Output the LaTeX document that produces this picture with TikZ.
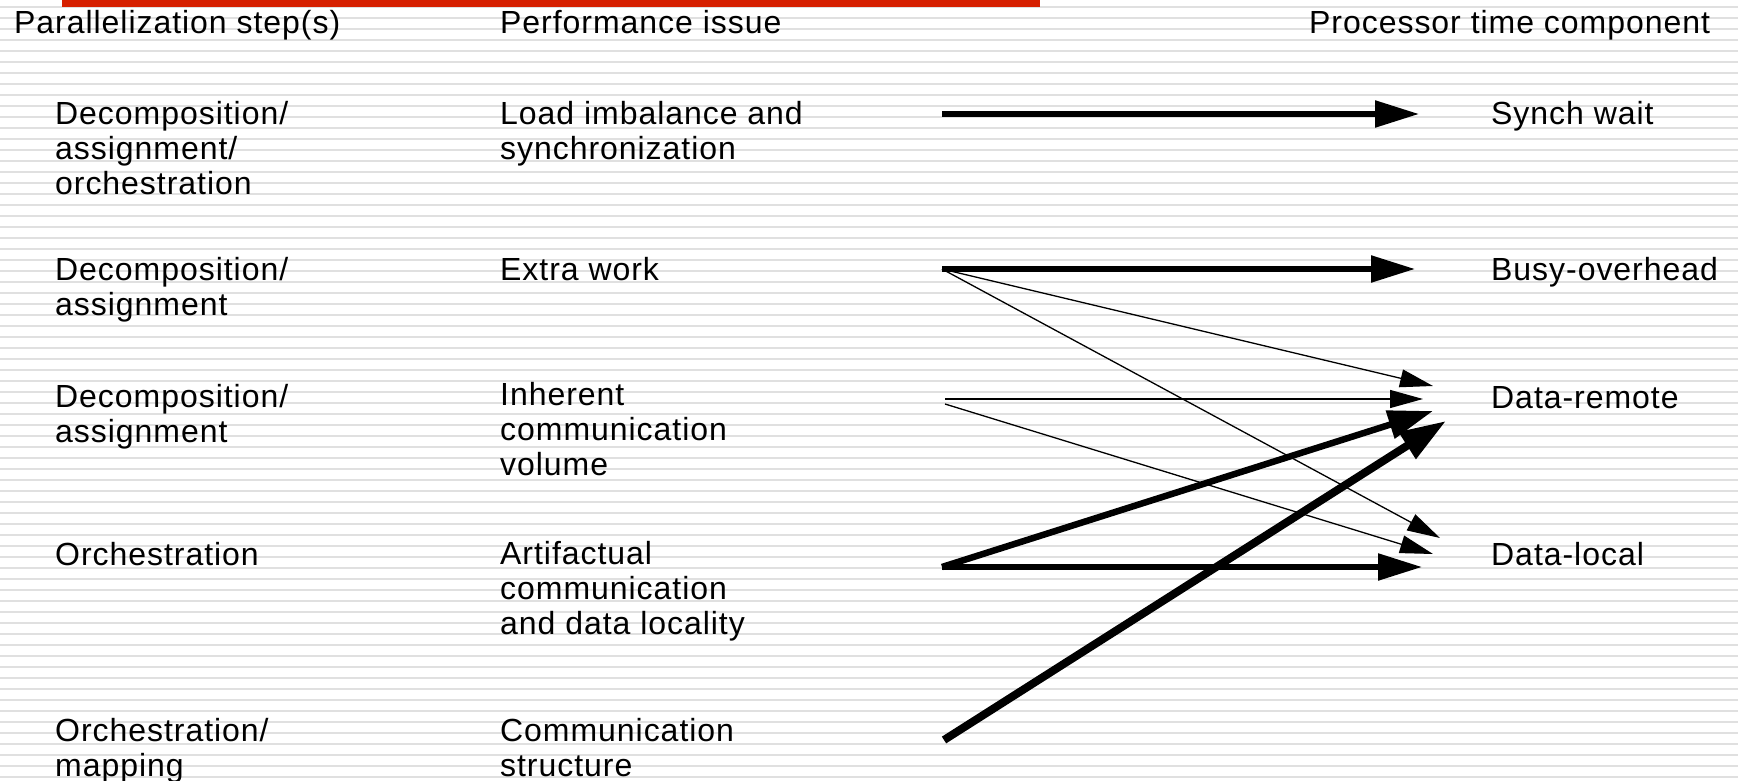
\documentclass[tikz,border=0pt]{standalone}
\usepackage{fontspec}
\setmainfont{Liberation Sans}[LetterSpace=3]
\usetikzlibrary{arrows.meta}
\definecolor{stripegray}{RGB}{224,224,224}
\definecolor{barred}{RGB}{214,32,0}
% invisible strut fixing the height of every first text line
\newcommand\firstline{\rule{0pt}{28pt}}

\begin{document}
\begin{tikzpicture}[x=1pt,y=-1pt,
  txt/.style={anchor=north west, inner sep=0pt, align=left,
              font=\fontsize{32}{35}\selectfont},
  bigarrow/.style={line width=5.5pt, -{Triangle[length=44pt,width=26pt]}},
  thinarrow/.style={line width=1.3pt, -{Triangle[length=33pt,width=18pt]}}]

\useasboundingbox (0,0) rectangle (1738,781);

% ruled background
\fill[white] (0,0) rectangle (1738,781);
\foreach \k in {0,...,70}
  \fill[stripegray] (0,{6+11*\k}) rectangle (1738,{8+11*\k});
\fill[barred] (62,0) rectangle (1040,7);

% column headings
\node[txt] (h1) at (14,5)   {\firstline Parallelization step(s)};
\node[txt] (h2) at (500,5)  {\firstline Performance issue};
\node[txt] (h3) at (1309,5) {\firstline Processor time component};

% parallelization steps
\node[txt] (p1) at (55,96)  {\firstline Decomposition/\\assignment/\\orchestration};
\node[txt] (p2) at (55,252) {\firstline Decomposition/\\assignment};
\node[txt] (p3) at (55,379) {\firstline Decomposition/\\assignment};
\node[txt] (p4) at (55,537) {\firstline Orchestration};
\node[txt] (p5) at (55,713) {\firstline Orchestration/\\mapping};

% performance issues
\node[txt] (i1) at (500,96)  {\firstline Load imbalance and\\synchronization};
\node[txt] (i2) at (500,252) {\firstline Extra work};
\node[txt] (i3) at (500,377) {\firstline Inherent\\communication\\volume};
\node[txt] (i4) at (500,536) {\firstline Artifactual\\communication\\and data locality};
\node[txt] (i5) at (500,713) {\firstline Communication\\structure};

% processor time components
\node[txt] (c1) at (1491,96)  {\firstline Synch wait};
\node[txt] (c2) at (1491,252) {\firstline Busy-overhead};
\node[txt] (c3) at (1491,380) {\firstline Data-remote};
\node[txt] (c4) at (1491,537) {\firstline Data-local};

% arrow end points
\coordinate (s1) at (942,114);
\coordinate (s2) at (942,269);
\coordinate (s3) at (945,399);
\coordinate (s3b) at (945,404);
\coordinate (s4) at (942,567);
\coordinate (s5) at (944,740);

\coordinate (t1) at (1419,114);
\coordinate (t2) at (1415,269);
\coordinate (rA) at (1433,386);
\coordinate (rC) at (1423,399);
\coordinate (rE) at (1433,411);
\coordinate (rF) at (1446,421);
\coordinate (lB) at (1440,538);
\coordinate (lD) at (1433,554);
\coordinate (lG) at (1422,567);

% connectors
\draw[bigarrow] (s1) -- (t1);
\draw[bigarrow] (s2) -- (t2);
\draw[thinarrow] (s2) -- (rA);
\draw[thinarrow] (s2) -- (lB);
\draw[thinarrow] (s3) -- (rC);
\draw[thinarrow] (s3b) -- (lD);
\draw[bigarrow, line width=6.5pt, -{Triangle[length=45pt,width=28pt]}] (s4) -- (rE);
\draw[bigarrow] (s4) -- (lG);
\draw[bigarrow, line width=8pt, -{Triangle[length=46pt,width=30pt]}] (s5) -- (rF);
\end{tikzpicture}
\end{document}
